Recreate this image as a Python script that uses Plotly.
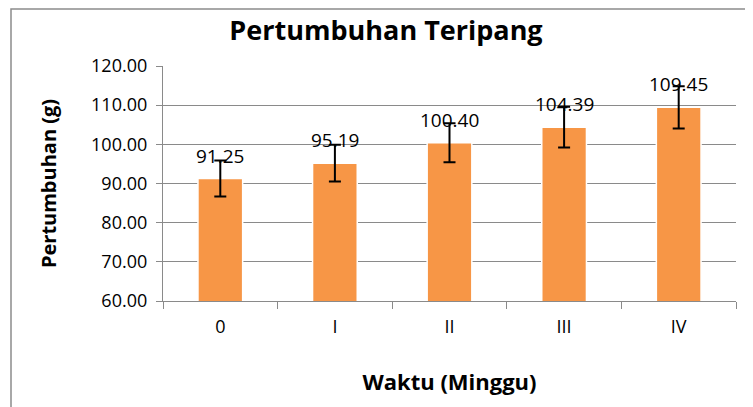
import plotly.graph_objects as go

categories = ["0", "I", "II", "III", "IV"]
values = [91.25, 95.19, 100.40, 104.39, 109.45]
errors = [4.6, 4.7, 5.0, 5.2, 5.4]
y_ticks = [60, 70, 80, 90, 100, 110, 120]

# browser body margin is 8px, so the figure is drawn 8px in from the top-left
OFF = 8
W, H = 753 - OFF, 407 - OFF
ml = 163 - OFF
mr = 753 - 736
mt = 66 - OFF
mb = 407 - 301
pw, ph = W - ml - mr, H - mt - mb

FONT = "Open Sans"
GRID = "#8a8a8a"

fig = go.Figure()
fig.add_trace(go.Bar(
    x=categories, y=values,
    marker=dict(color="#F79646", line=dict(color="#ffffff", width=1.5)),
    error_y=dict(type="data", array=errors, color="#000000", thickness=2, width=6),
    width=0.39,
    hoverinfo="skip",
))

for c, v in zip(categories, values):
    fig.add_annotation(x=c, y=v, text=f"{v:.2f}", showarrow=False,
                       yshift=23, font=dict(family=FONT, size=19, color="#000000"))

# chart border
fig.add_shape(type="rect", xref="paper", yref="paper",
              x0=(11 - OFF - ml) / pw, x1=(770 - ml) / pw,
              y0=(H - mb - 420) / ph, y1=(H - mb - (9 - OFF)) / ph,
              line=dict(color="#8c8c8c", width=1.5), fillcolor="rgba(0,0,0,0)", layer="below")

fig.update_layout(
    width=W, height=H,
    margin=dict(l=ml, r=mr, t=mt, b=mb),
    paper_bgcolor="white", plot_bgcolor="white",
    showlegend=False,
    title=dict(text="<b>Pertumbuhan Teripang</b>", x=(386 - OFF) / W, xanchor="center",
               y=1 - (31 - OFF) / H, yanchor="middle",
               font=dict(family=FONT, size=27, color="#000000")),
    xaxis=dict(
        type="category", tickson="boundaries", ticks="outside", ticklen=7,
        tickcolor=GRID, tickwidth=1.3,
        showline=True, linecolor=GRID, linewidth=1.3,
        showgrid=False, ticklabelstandoff=9,
        tickfont=dict(family=FONT, size=18, color="#000000"),
        title=dict(text="<b>Waktu (Minggu)</b>", standoff=37,
                   font=dict(family=FONT, size=22, color="#000000")),
        automargin=False,
    ),
    yaxis=dict(
        range=[60, 120], tickvals=y_ticks, tickformat=".2f",
        ticks="outside", ticklen=6, tickcolor=GRID, tickwidth=1.3,
        showline=True, linecolor=GRID, linewidth=1.3,
        showgrid=True, gridcolor=GRID, gridwidth=1.3,
        zeroline=False, ticklabelstandoff=5,
        tickfont=dict(family=FONT, size=18, color="#000000"),
        title=dict(text="<b>Pertumbuhan (g)</b>", standoff=29,
                   font=dict(family=FONT, size=20, color="#000000")),
        automargin=False,
    ),
)

fig.write_html("out.html")
